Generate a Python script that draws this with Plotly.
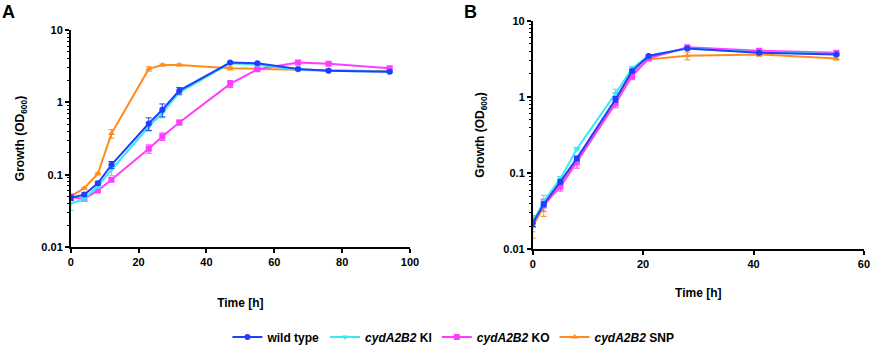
import plotly.graph_objects as go

# Panel A data
time_a = [0, 4, 8, 12, 23, 27, 32, 47, 55, 67, 76, 94]
wt_a = [0.048, 0.053, 0.076, 0.137, 0.51, 0.79, 1.45, 3.54, 3.47, 2.9, 2.74, 2.65]
wt_a_err = [0.004, 0.003, 0.005, 0.015, 0.1, 0.16, 0.15, 0.1, 0.1, 0.1, 0.08, 0.08]
ki_a = [0.040, 0.046, 0.069, 0.117, 0.46, 0.71, 1.36, 3.47, 3.3, 2.8, 2.74, 2.65]
ki_a_err = [0.008, 0.003, 0.004, 0.02, 0.06, 0.1, 0.1, 0.1, 0.1, 0.08, 0.08, 0.08]
ko_a = [0.049, 0.046, 0.0605, 0.085, 0.228, 0.337, 0.526, 1.80, 2.86, 3.54, 3.42, 2.96]
ko_a_err = [0.005, 0.003, 0.003, 0.005, 0.03, 0.04, 0.04, 0.2, 0.1, 0.2, 0.15, 0.15]
snp_a = [0.050, 0.065, 0.103, 0.37, 2.9, 3.29, 3.29, 2.95, 2.9, 2.85, 2.8, 2.7]
snp_a_err = [0.003, 0.002, 0.003, 0.05, 0.2, 0.1, 0.1, 0.15, 0.1, 0.1, 0.1, 0.1]

# Panel B data
time_b = [0, 2, 5, 8, 15, 18, 21, 28, 41, 55]
wt_b = [0.0219, 0.039, 0.077, 0.156, 0.93, 2.19, 3.44, 4.33, 3.80, 3.61]
wt_b_err = [0.002, 0.003, 0.005, 0.01, 0.08, 0.1, 0.1, 0.15, 0.15, 0.1]
ki_b = [0.022, 0.043, 0.084, 0.207, 1.11, 2.37, 3.50, 4.33, 3.85, 3.65]
ki_b_err = [0.005, 0.008, 0.006, 0.01, 0.15, 0.15, 0.1, 0.1, 0.1, 0.1]
ko_b = [0.0236, 0.0386, 0.066, 0.141, 0.82, 1.88, 3.2, 4.47, 4.04, 3.80]
ko_b_err = [0.004, 0.007, 0.008, 0.025, 0.1, 0.2, 0.1, 0.2, 0.2, 0.15]
snp_b = [0.020, 0.036, 0.073, 0.147, 0.87, 2.0, 3.11, 3.47, 3.61, 3.2]
snp_b_err = [0.006, 0.009, 0.005, 0.02, 0.1, 0.15, 0.1, 0.4, 0.2, 0.15]

names = ["wild type", "<i>cydA2B2</i> KI", "<i>cydA2B2</i> KO", "<i>cydA2B2</i> SNP"]
colors = ["#1f3fff", "#3de8f0", "#ff3cff", "#ff8c1a"]
symbols = ["circle", "triangle-down", "square", "triangle-up"]

fig = go.Figure()

series_a = [(wt_a, wt_a_err), (ki_a, ki_a_err), (ko_a, ko_a_err), (snp_a, snp_a_err)]
series_b = [(wt_b, wt_b_err), (ki_b, ki_b_err), (ko_b, ko_b_err), (snp_b, snp_b_err)]

# draw order: orange, pink, cyan, blue on top
order = [3, 2, 1, 0]
for i in order:
    y, e = series_a[i]
    fig.add_trace(go.Scatter(
        x=time_a, y=y, mode="lines+markers", name=names[i],
        line=dict(color=colors[i], width=2),
        marker=dict(color=colors[i], symbol=symbols[i], size=6),
        error_y=dict(type="data", array=e, color=colors[i], thickness=1, width=3),
        xaxis="x", yaxis="y", showlegend=False, legendrank=i))
for i in order:
    y, e = series_b[i]
    fig.add_trace(go.Scatter(
        x=time_b, y=y, mode="lines+markers", name=names[i],
        line=dict(color=colors[i], width=2),
        marker=dict(color=colors[i], symbol=symbols[i], size=6),
        error_y=dict(type="data", array=e, color=colors[i], thickness=1, width=3),
        xaxis="x2", yaxis="y2", showlegend=True, legendrank=i))

common_x = dict(showline=True, linecolor="black", linewidth=1.5, ticks="outside",
                ticklen=4, tickwidth=1.5, tickcolor="black", showgrid=False,
                zeroline=False, tickfont=dict(size=11, color="black"),
                ticklabeloverflow="allow")
common_y = dict(type="log", range=[-2, 1], showline=True, linecolor="black",
                linewidth=1.5, ticks="outside", ticklen=4, tickwidth=1.5,
                tickcolor="black", showgrid=False, zeroline=False,
                tickvals=[0.01, 0.1, 1, 10], ticktext=["0.01", "0.1", "1", "10"],
                tickfont=dict(size=11, color="black"),
                minor=dict(ticks="outside", ticklen=2, tickwidth=1, tickcolor="black",
                           dtick="D1", showgrid=False))

fig.update_layout(
    width=872, height=346,
    margin=dict(l=0, r=0, t=0, b=0, autoexpand=False),
    paper_bgcolor="white", plot_bgcolor="white",
    font=dict(family="Liberation Sans, Arial, sans-serif", weight="bold", color="black"),
    xaxis=dict(common_x, domain=[0.0811, 0.4702], range=[0, 100], dtick=20, anchor="y",
               title=dict(text="Time [h]", standoff=32, font=dict(size=12))),
    yaxis=dict(common_y, domain=[0.2861, 0.9133], anchor="x",
               title=dict(text="Growth (OD<sub>600</sub>)", standoff=14, font=dict(size=12))),
    xaxis2=dict(common_x, domain=[0.6109, 0.9908], range=[0, 60], dtick=20, anchor="y2",
                title=dict(text="Time [h]", standoff=19, font=dict(size=12))),
    yaxis2=dict(common_y, domain=[0.2795, 0.9402], anchor="x2",
                title=dict(text="Growth (OD<sub>600</sub>)", standoff=16, font=dict(size=12))),
    legend=dict(orientation="h", x=0.52, xanchor="center", y=1 - 337 / 346, yanchor="middle",
                font=dict(size=12, color="black"), itemwidth=30,
                traceorder="normal", bgcolor="rgba(0,0,0,0)"),
    annotations=[
        dict(text="A", x=0.0, y=1.0, xref="paper", yref="paper", xanchor="left",
             yanchor="top", showarrow=False, font=dict(size=18, color="black")),
        dict(text="B", x=462/872, y=1.0, xref="paper", yref="paper", xanchor="left",
             yanchor="top", showarrow=False, font=dict(size=18, color="black")),
    ],
)

fig.write_html("out.html", config={"displayModeBar": False},
               post_script="document.body.style.margin='0';")
